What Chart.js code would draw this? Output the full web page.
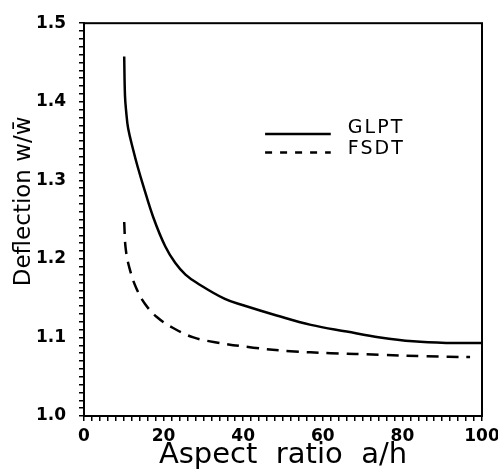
<!DOCTYPE html>
<html lang="en">
<head>
<meta charset="UTF-8">
<title>Deflection vs aspect ratio</title>
<script src="https://cdn.jsdelivr.net/npm/chart.js"></script>
<style>
    html, body { margin: 0; padding: 0; background: #fff; }
    #wrap { width: 498px; height: 473px; }
</style>
</head>
<body>
<div id="wrap"><canvas id="grafico"></canvas></div>
<script>
// values
const aspectGlpt = [10.1, 10.3, 10.6, 11.1, 12.4, 13.5, 14.9, 17.4, 20.4, 22.9, 25.5, 28.5, 35.4, 40, 48.4, 57, 66, 74.4, 82.7, 91, 100];
const glpt       = [1.4575, 1.4075, 1.3875, 1.366, 1.338, 1.317, 1.293, 1.253, 1.216, 1.195, 1.18, 1.169, 1.149, 1.141, 1.128, 1.116, 1.1075, 1.100, 1.095, 1.093, 1.093];
const aspectFsdt = [10.1, 10.5, 11.6, 13.2, 15.3, 18.3, 22.4, 27.5, 32.9, 42.5, 51.8, 62, 74.4, 86, 97];
const fsdt       = [1.247, 1.212, 1.185, 1.162, 1.143, 1.126, 1.112, 1.100, 1.094, 1.087, 1.0825, 1.080, 1.078, 1.076, 1.075];
const xTicks = [0, 20, 40, 60, 80, 100];
const yTicks = [1.0, 1.1, 1.2, 1.3, 1.4, 1.5];
const seriesNames = ['GLPT', 'FSDT'];

const FONT = 'DejaVu Sans';

function pts(xs, ys) { return xs.map((x, i) => ({ x: x, y: ys[i] })); }

// box around the plot + legend inside it
const extras = {
    id: 'extras',
    afterDraw(chart) {
        const c = chart.ctx, a = chart.chartArea;
        const sx = chart.scales.x, sy = chart.scales.y;
        c.save();
        c.strokeStyle = '#000';
        c.lineWidth = 2;
        c.strokeRect(a.left, a.top, a.right - a.left, a.bottom - a.top);

        const x1 = sx.getPixelForValue(45.5), x2 = sx.getPixelForValue(62), tx = sx.getPixelForValue(66.3);
        const rows = [sy.getPixelForValue(1.359), sy.getPixelForValue(1.3355)];
        c.font = '19px "' + FONT + '"';
        c.fillStyle = '#000';
        c.textBaseline = 'alphabetic';
        c.letterSpacing = '2px';
        rows.forEach((y, i) => {
            c.beginPath();
            c.lineWidth = 2.5;
            c.setLineDash(i === 0 ? [] : [7, 8]);
            c.moveTo(x1, y);
            c.lineTo(x2, y);
            c.stroke();
            c.setLineDash([]);
            c.fillText(seriesNames[i], tx, y + (i === 0 ? -1 : 1.5));
        });
        c.restore();
    }
};

new Chart(document.getElementById('grafico'), {
    type: 'line',
    data: {
        datasets: [
            {
                label: seriesNames[0],
                data: pts(aspectGlpt, glpt),
                borderColor: '#000',
                borderWidth: 2.5,
                pointRadius: 0,
                tension: 0.4,
                fill: false
            },
            {
                label: seriesNames[1],
                data: pts(aspectFsdt, fsdt),
                borderColor: '#000',
                borderWidth: 2.5,
                borderDash: [12, 8],
                pointRadius: 0,
                tension: 0.4,
                fill: false
            }
        ]
    },
    options: {
        responsive: true,
        maintainAspectRatio: false,
        animation: false,
        layout: { padding: { top: 16, right: 16, left: 0, bottom: 0 } },
        plugins: { legend: { display: false }, tooltip: { enabled: false } },
        scales: {
            x: {
                type: 'linear',
                min: 0, max: 100,
                afterFit(s) { s.height = 57; s.paddingLeft = 0; s.paddingRight = 0; },
                grid: { drawOnChartArea: false, drawTicks: true, tickLength: 5, color: '#000', lineWidth: 1.5 },
                border: { display: true, color: '#000', width: 2 },
                ticks: {
                    stepSize: 2,
                    autoSkip: false,
                    maxRotation: 0,
                    padding: 5,
                    color: '#000',
                    font: { family: FONT, size: 17, weight: 'bold' },
                    callback: v => xTicks.includes(Math.round(v)) && Math.abs(v - Math.round(v)) < 1e-6 ? String(Math.round(v)) : ''
                },
                title: {
                    display: true,
                    text: 'Aspect  ratio  a/h',
                    color: '#000',
                    padding: { top: 0, bottom: 0 },
                    font: { family: FONT, size: 29 }
                }
            },
            y: {
                min: 1.0, max: 1.5,
                afterFit(s) { s.width = 84; },
                grid: { drawOnChartArea: false, drawTicks: true, tickLength: 5, color: '#000', lineWidth: 1.5 },
                border: { display: true, color: '#000', width: 2 },
                ticks: {
                    stepSize: 0.01,
                    autoSkip: false,
                    padding: 13,
                    color: '#000',
                    font: { family: FONT, size: 17, weight: 'bold' },
                    callback: v => {
                        const t = yTicks.find(k => Math.abs(k - v) < 1e-6);
                        return t === undefined ? '' : t.toFixed(1);
                    }
                },
                title: {
                    display: true,
                    text: '     Deflection w/w\u0304',
                    color: '#000',
                    padding: { top: 10, bottom: 0 },
                    font: { family: FONT, size: 23 }
                }
            }
        }
    },
    plugins: [extras]
});
</script>
</body>
</html>
